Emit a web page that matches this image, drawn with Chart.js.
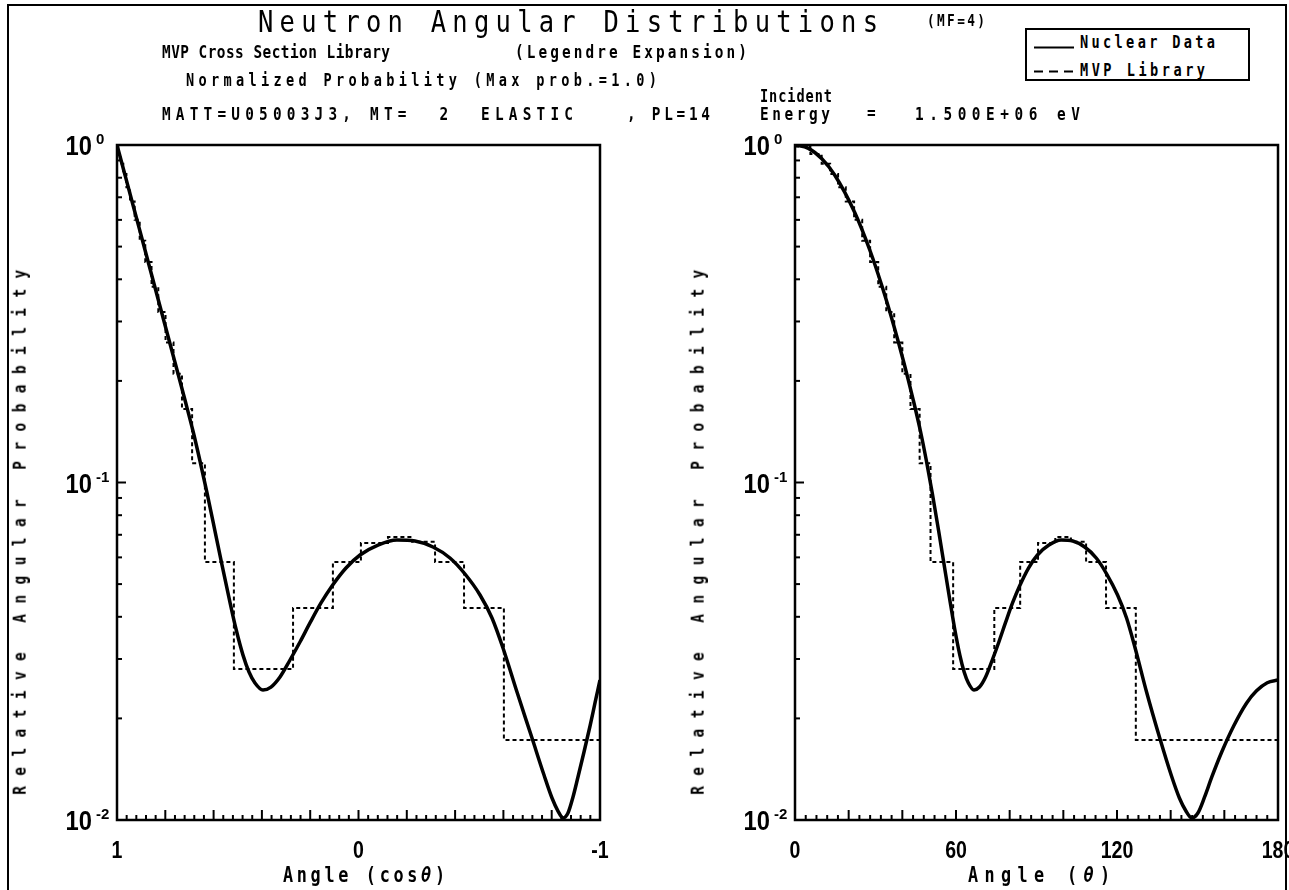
<!DOCTYPE html>
<html><head><meta charset="utf-8"><title>Neutron Angular Distributions</title>
<script src="https://cdn.jsdelivr.net/npm/chart.js@4.4.1/dist/chart.umd.min.js"></script>
<style>
html,body{margin:0;padding:0;background:#fff}
#page{position:relative;width:1289px;height:890px;overflow:hidden;background:#fff}
canvas{position:absolute;top:0}
#c1{left:0}
#c2{left:645px}
.txt{position:absolute;white-space:pre;color:#000}
#outer{position:absolute;left:7px;top:4px;width:1280px;height:1000px;border:2px solid #000;box-sizing:border-box}
#legend{position:absolute;left:1025px;top:28px;width:225px;height:53px;border:2px solid #000;box-sizing:border-box;background:#fff}
svg{position:absolute;overflow:visible}
</style></head>
<body><div id="page">
<div id="outer"></div>
<canvas id="c1" width="645" height="890"></canvas>
<canvas id="c2" width="644" height="890"></canvas>
<div id="legend"></div>
<svg style="left:1034px;top:40px" width="46" height="40">
  <line x1="0" y1="7.5" x2="40" y2="7.5" stroke="#000" stroke-width="2"/>
  <line x1="0" y1="31.5" x2="40" y2="31.5" stroke="#000" stroke-width="2" stroke-dasharray="9 6"/>
</svg>
</div>
<script>
// ---------------- data ----------------
const thetaDeg = [0, 5, 10, 14.79, 22.26, 27.87, 32.58, 36.75, 40.56, 44.07, 46.74, 48.98, 51.15, 53.54, 55.58, 57.58, 59.52, 61.43, 63.04, 64.62, 66.70, 68.75, 71.03, 73.52, 75.98, 78.41, 81.07, 83.70, 87.03, 90.36, 94.63, 99.17, 103.53, 107.97, 112.26, 116.17, 120.21, 123.56, 126.75, 131.02, 135.93, 140.19, 143.25, 145.70, 147.86, 150.16, 152.65, 155.34, 159.03, 163.48, 168.32, 172, 176, 180];
const nuclearProb = [1.0, 0.977, 0.9105, 0.8149, 0.6310, 0.4886, 0.3782, 0.2929, 0.2268, 0.1755, 0.1421, 0.1158, 0.0931, 0.0718, 0.0570, 0.0455, 0.0368, 0.0308, 0.02745, 0.02546, 0.02427, 0.02477, 0.02653, 0.02979, 0.03369, 0.03836, 0.04396, 0.04935, 0.05580, 0.06098, 0.06527, 0.06754, 0.06708, 0.06439, 0.05974, 0.05356, 0.04642, 0.03969, 0.03234, 0.02394, 0.01749, 0.01359, 0.01162, 0.01063, 0.01014, 0.01049, 0.01170, 0.01341, 0.01590, 0.01899, 0.02222, 0.02414, 0.02551, 0.02599];
const mvpMuEdges = [1.0, 0.995, 0.985, 0.974, 0.961, 0.946, 0.927, 0.906, 0.883, 0.857, 0.829, 0.799, 0.766, 0.731, 0.689, 0.636, 0.516, 0.271, 0.106, -0.010, -0.122, -0.222, -0.317, -0.437, -0.602, -1.0];
const mvpProb = [0.99, 0.94, 0.88, 0.82, 0.75, 0.68, 0.60, 0.52, 0.45, 0.38, 0.32, 0.26, 0.21, 0.165, 0.114, 0.0581, 0.0280, 0.0425, 0.0581, 0.0662, 0.0689, 0.0667, 0.0581, 0.0425, 0.01726];
const yTickValues = [1, 0.1, 0.01];
const yTickExponents = ['0', '-1', '-2'];
const leftXTickLabels = [1, 0, -1];
const rightXTickLabels = [0, 60, 120, 180];

// ---------------- derived point lists ----------------
const rad = Math.PI / 180;
const nuclearLeft = thetaDeg.map((t, i) => ({x: Math.cos(t * rad), y: nuclearProb[i]}));
const nuclearRight = thetaDeg.map((t, i) => ({x: t, y: nuclearProb[i]}));
const mvpAt = i => mvpProb[Math.min(i, mvpProb.length - 1)];
const mvpLeft = mvpMuEdges.map((m, i) => ({x: m, y: mvpAt(i)}));
const mvpRight = mvpMuEdges.map((m, i) => ({x: Math.acos(Math.max(-1, Math.min(1, m))) / rad, y: mvpAt(i)}));

const axisDecor = {
  id: 'axisDecor',
  afterDraw(chart, args, o) {
    const {ctx, chartArea: a} = chart;
    const xs = chart.scales.x, ys = chart.scales.y;
    ctx.save();
    ctx.strokeStyle = '#000';
    ctx.lineWidth = 2;
    for (let d = 1; d < yTickValues.length; d++) {
      const base = yTickValues[d];
      for (let k = 1; k <= 9; k++) {
        const py = ys.getPixelForValue(base * k);
        const len = k === 1 ? 9 : 5;
        ctx.beginPath(); ctx.moveTo(a.left, py); ctx.lineTo(a.left + len, py); ctx.stroke();
      }
    }
    for (let i = 0; i <= o.count; i++) {
      const px = xs.getPixelForValue(o.min + i * o.step);
      const len = (i % 5 === 0) ? 10 : 5;
      ctx.beginPath(); ctx.moveTo(px, a.bottom); ctx.lineTo(px, a.bottom - len); ctx.stroke();
    }
    ctx.lineWidth = 2.5;
    ctx.strokeRect(a.left, a.top, a.right - a.left, a.bottom - a.top);
    ctx.fillStyle = '#000';
    ctx.textBaseline = 'alphabetic';
    o.labels.forEach(v => {
      const px = xs.getPixelForValue(v);
      ctx.save();
      ctx.translate(px, a.bottom + 38);
      ctx.scale(0.85, 1);
      ctx.font = 'bold 23px "Liberation Sans"';
      ctx.textAlign = 'center';
      ctx.fillText(String(v), 0, 0);
      ctx.restore();
    });
    yTickValues.forEach((v, i) => {
      const py = ys.getPixelForValue(v);
      ctx.save();
      ctx.font = 'bold 15px "Liberation Sans"';
      ctx.textAlign = 'left';
      ctx.fillText(yTickExponents[i], a.left - 21, py - 1);
      ctx.translate(a.left - 25, py + 10);
      ctx.scale(0.88, 1);
      ctx.font = 'bold 27px "Liberation Sans"';
      ctx.textAlign = 'right';
      ctx.fillText('10', 0, 0);
      ctx.restore();
    });
    ctx.restore();
  }
};

function makeChart(id, solid, dashed, xOpts, padding, deco) {
  return new Chart(document.getElementById(id), {
    type: 'line',
    data: {datasets: [
      {label: 'Nuclear Data', data: solid, borderColor: '#000', borderWidth: 3.5, pointRadius: 0, cubicInterpolationMode: 'monotone', fill: false},
      {label: 'MVP Library', data: dashed, borderColor: '#000', borderWidth: 2, borderDash: [4, 3], pointRadius: 0, stepped: true, fill: false}
    ]},
    options: {
      responsive: false, animation: false,
      layout: {padding},
      plugins: {legend: {display: false}, tooltip: {enabled: false}, axisDecor: deco},
      scales: {
        x: Object.assign({type: 'linear', display: false}, xOpts),
        y: {type: 'logarithmic', display: false, min: 0.01, max: 1}
      }
    },
    plugins: [axisDecor]
  });
}

makeChart('c1', nuclearLeft, mvpLeft, {min: -1, max: 1, reverse: true},
  {left: 117, right: 45, top: 145, bottom: 70},
  {min: -1, step: 0.04, count: 50, labels: leftXTickLabels});
makeChart('c2', nuclearRight, mvpRight, {min: 0, max: 180},
  {left: 150, right: 11, top: 145, bottom: 70},
  {min: 0, step: 4, count: 45, labels: rightXTickLabels});

// ---------------- text ----------------
const page = document.getElementById('page');
const mctx = document.createElement('canvas').getContext('2d');
function placeText(html, plain, x, base, width, size, weight, sx, rotate) {
  const font = `${weight} ${size}px "DejaVu Sans Mono"`;
  mctx.font = font;
  const nat = mctx.measureText(plain).width;
  const n = plain.length;
  const ls = width ? (width / sx - nat) / Math.max(1, n - 1) : 0;
  const w = nat + n * ls;
  const d = document.createElement('div');
  d.className = 'txt';
  d.innerHTML = html;
  d.style.font = font;
  d.style.fontFamily = '"DejaVu Sans Mono", monospace';
  d.style.lineHeight = '1';
  d.style.letterSpacing = ls + 'px';
  if (!rotate) {
    d.style.left = x + 'px';
    d.style.top = (base - 0.846 * size) + 'px';
    d.style.transformOrigin = '0 0';
    d.style.transform = `scaleX(${sx})`;
  } else {
    d.style.left = (x - w / 2) + 'px';
    d.style.top = (base - size / 2) + 'px';
    d.style.width = w + 'px';
    d.style.transformOrigin = '50% 50%';
    d.style.transform = `rotate(-90deg) scaleX(${sx})`;
  }
  page.appendChild(d);
}
const T = (s, x, b, w, size, weight, sx) => placeText(s, s, x, b, w, size, weight, sx, false);
T('Neutron Angular Distributions', 258, 32, 620, 30, 'normal', 0.85);
T('(MF=4)', 927, 27, 58, 16, 'bold', 0.8);
T('MVP Cross Section Library', 162, 58, 228, 18, 'bold', 0.8);
T('(Legendre Expansion)', 515, 58, 232, 18, 'bold', 0.8);
T('Normalized Probability (Max prob.=1.0)', 186, 86, 471, 17, 'bold', 0.8);
T('MATT=U05003J3, MT=  2  ELASTIC', 162, 120, 411, 18, 'bold', 0.8);
T(', PL=14', 627, 120, 83, 18, 'bold', 0.8);
T('Incident', 760, 102, 72, 17, 'bold', 0.8);
T('Energy', 760, 120, 70, 18, 'bold', 0.8);
T('=', 867, 119, 0, 18, 'bold', 0.8);
T('1.500E+06 eV', 915, 120, 165, 18, 'bold', 0.8);
T('Nuclear Data', 1080, 48, 135, 17, 'bold', 0.8);
T('MVP Library', 1080, 76, 125, 17, 'bold', 0.8);
placeText('Angle (cos<i>θ</i>)', 'Angle (cosθ)', 283, 883, 162, 21, 'bold', 0.8, false);
placeText('Angle (<i>θ</i>)', 'Angle (θ)', 968, 883, 142, 21, 'bold', 0.8, false);
placeText('Relative Angular Probability', 'Relative Angular Probability', 20, 527, 525, 18, 'bold', 0.8, true);
placeText('Relative Angular Probability', 'Relative Angular Probability', 698, 527, 525, 18, 'bold', 0.8, true);
</script>
</body></html>
